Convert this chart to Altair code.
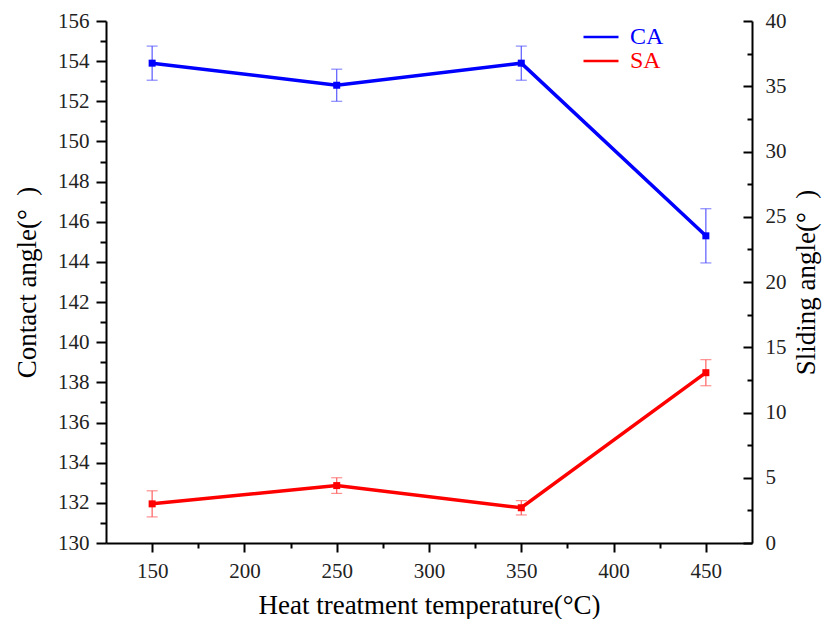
import altair as alt
import pandas as pd

# ---- data ----
temps = [150, 250, 350, 450]
ca = [153.9, 152.8, 153.9, 145.3]
ca_err = [0.85, 0.8, 0.85, 1.35]
sa = [3.0, 4.4, 2.7, 13.05]
sa_err = [1.0, 0.6, 0.55, 1.0]
series_names = ["CA", "SA"]
series_colors = ["#0000ff", "#ff0000"]
err_colors = ["#5a5aff", "#ff6060"]

x_major = [150, 200, 250, 300, 350, 400, 450]
x_minor = [175, 225, 275, 325, 375, 425]
ca_major = list(range(130, 157, 2))
ca_minor = list(range(131, 156, 2))
sa_major = [0, 5, 10, 15, 20, 25, 30, 35, 40]
sa_minor = [2.5, 7.5, 12.5, 17.5, 22.5, 27.5, 32.5, 37.5]

x_title = "Heat treatment temperature(°C)"
ca_title = "Contact angle(°\u00a0\u00a0)"
sa_title = "Sliding angle(°\u00a0\u00a0)"

df = pd.DataFrame({
    "temp": temps,
    "ca": ca,
    "ca_lo": [v - e for v, e in zip(ca, ca_err)],
    "ca_hi": [v + e for v, e in zip(ca, ca_err)],
    "sa": sa,
    "sa_lo": [v - e for v, e in zip(sa, sa_err)],
    "sa_hi": [v + e for v, e in zip(sa, sa_err)],
})

FONT = "Liberation Serif"
PW, PH = 646, 522
LFS, TFS = 21, 27

xscale = alt.Scale(domain=[125, 475], nice=False, zero=False)
ca_scale = alt.Scale(domain=[130, 156], nice=False, zero=False)
sa_scale = alt.Scale(domain=[0, 40], nice=False, zero=False)

lab = dict(labelFont=FONT, labelFontSize=LFS, labelColor="#222")
tit = dict(titleFont=FONT, titleFontSize=TFS, titleFontWeight="normal", titleColor="black")

x_major_axis = alt.Axis(orient="bottom", values=x_major, tickSize=9, labelPadding=8,
                        title=x_title, titlePadding=11, format="d", **lab, **tit)
x_minor_axis = alt.Axis(orient="bottom", values=x_minor, tickSize=5, labels=False,
                        domain=False, title=None)
x_none = alt.X("temp:Q", scale=xscale, axis=None)

color = alt.Color(
    "series:N",
    scale=alt.Scale(domain=series_names, range=series_colors),
    legend=alt.Legend(
        title=None, orient="none", legendX=483, legendY=4,
        symbolType="M-2,0H2", symbolSize=306, symbolStrokeWidth=2.5,
        labelFont=FONT, labelFontSize=24, labelOffset=17, rowPadding=0,
        padding=0,
        labelColor=alt.ExprRef("datum.label == 'CA' ? '#0000ff' : '#ff0000'"),
    ),
)

base = alt.Chart(df)

# ---------- left (contact angle) group ----------
ca_rule = base.mark_rule(strokeWidth=1.2, color=err_colors[0]).encode(
    x=x_none, y=alt.Y("ca_lo:Q", scale=ca_scale, axis=None), y2="ca_hi:Q")
ca_cap_lo = base.mark_tick(orient="horizontal", size=11, thickness=1.2, color=err_colors[0]).encode(
    x=x_none, y=alt.Y("ca_lo:Q", scale=ca_scale, axis=None))
ca_cap_hi = base.mark_tick(orient="horizontal", size=11, thickness=1.2, color=err_colors[0]).encode(
    x=x_none, y=alt.Y("ca_hi:Q", scale=ca_scale, axis=None))
ca_line = base.transform_calculate(series="'CA'").mark_line(strokeWidth=3.5).encode(
    x=alt.X("temp:Q", scale=xscale, axis=x_major_axis),
    y=alt.Y("ca:Q", scale=ca_scale,
            axis=alt.Axis(orient="left", values=ca_major, tickSize=10, labelPadding=7,
                          title=ca_title, titlePadding=16, **lab, **tit)),
    color=color,
)
ca_pts = base.mark_square(size=49, opacity=1, color=series_colors[0]).encode(
    x=x_none, y=alt.Y("ca:Q", scale=ca_scale, axis=None))
ca_minor_layer = base.mark_point(opacity=0).encode(
    x=alt.X("temp:Q", scale=xscale, axis=x_minor_axis),
    y=alt.Y("ca:Q", scale=ca_scale,
            axis=alt.Axis(orient="left", values=ca_minor, tickSize=6, labels=False,
                          domain=False, title=None)),
)
left = alt.layer(ca_rule, ca_cap_lo, ca_cap_hi, ca_line, ca_pts, ca_minor_layer).resolve_axis(
    x="independent", y="independent")

# ---------- right (sliding angle) group ----------
sa_rule = base.mark_rule(strokeWidth=1.2, color=err_colors[1]).encode(
    x=x_none, y=alt.Y("sa_lo:Q", scale=sa_scale, axis=None), y2="sa_hi:Q")
sa_cap_lo = base.mark_tick(orient="horizontal", size=11, thickness=1.2, color=err_colors[1]).encode(
    x=x_none, y=alt.Y("sa_lo:Q", scale=sa_scale, axis=None))
sa_cap_hi = base.mark_tick(orient="horizontal", size=11, thickness=1.2, color=err_colors[1]).encode(
    x=x_none, y=alt.Y("sa_hi:Q", scale=sa_scale, axis=None))
sa_line = base.transform_calculate(series="'SA'").mark_line(strokeWidth=3.5).encode(
    x=x_none,
    y=alt.Y("sa:Q", scale=sa_scale,
            axis=alt.Axis(orient="right", values=sa_major, ticks=False, labelPadding=13,
                          title=sa_title, titlePadding=7, titleAngle=270,
                          titleBaseline="top", **lab, **tit)),
    color=color,
)
sa_pts = base.mark_square(size=49, opacity=1, color=series_colors[1]).encode(
    x=x_none, y=alt.Y("sa:Q", scale=sa_scale, axis=None))
sa_in_major = base.mark_point(opacity=0).encode(
    x=x_none,
    y=alt.Y("sa:Q", scale=sa_scale,
            axis=alt.Axis(orient="left", offset=-PW, values=sa_major, tickSize=9,
                          labels=False, domain=False, title=None)),
)
sa_in_minor = base.mark_point(opacity=0).encode(
    x=x_none,
    y=alt.Y("sa:Q", scale=sa_scale,
            axis=alt.Axis(orient="left", offset=-PW, values=sa_minor, tickSize=5,
                          labels=False, domain=False, title=None)),
)
right = alt.layer(sa_rule, sa_cap_lo, sa_cap_hi, sa_line, sa_pts, sa_in_major, sa_in_minor).resolve_axis(
    y="independent")

chart = alt.layer(left, right).resolve_scale(y="independent").properties(
    width=PW, height=PH,
    background="white",
    autosize=alt.AutoSizeParams(type="none"),
    padding={"left": 106, "top": 21, "right": 70, "bottom": 76},
).configure_view(stroke=None).configure_axis(
    grid=False, domainColor="black", domainWidth=2, tickColor="black", tickWidth=2,
    labelFont=FONT, labelFontSize=LFS, labelColor="#222",
    titleFont=FONT, titleFontSize=TFS, titleFontWeight="normal", titleColor="black",
)

chart.save("out.html", embed_options={"renderer": "svg", "actions": False})
